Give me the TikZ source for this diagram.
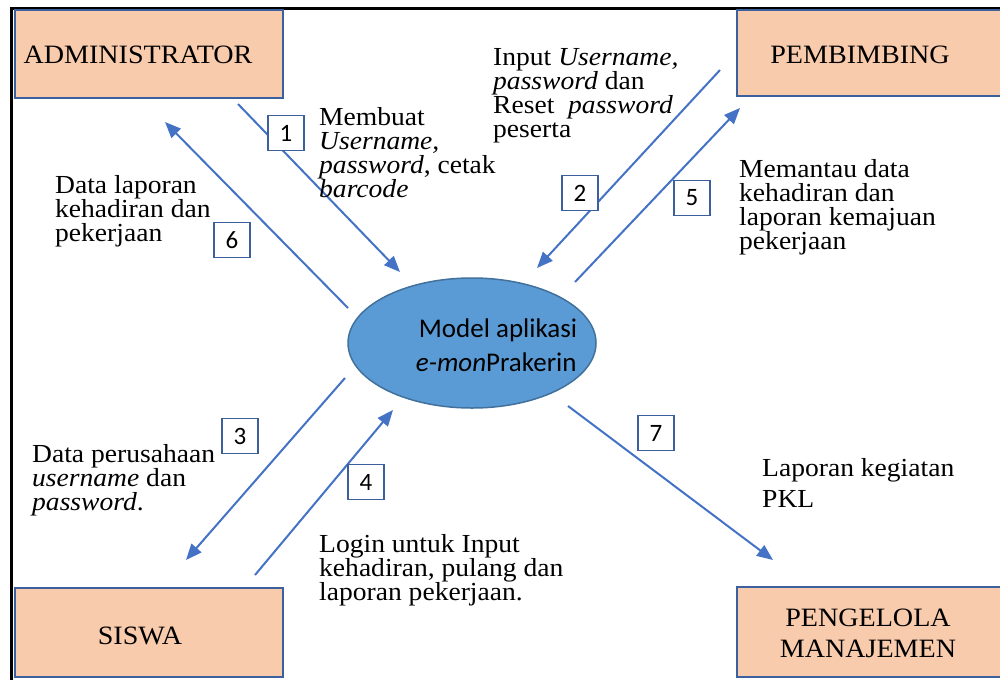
\documentclass[tikz,border=0pt]{standalone}
\usepackage{fontspec}
\setmainfont{Liberation Serif}[FakeStretch=1.06]
\newfontfamily\calibrifont{Carlito}
\usetikzlibrary{arrows.meta,shapes.geometric}
\definecolor{peach}{HTML}{F8CBAD}
\definecolor{boxblue}{HTML}{3C5F9E}
\definecolor{ellfill}{HTML}{5B9BD5}
\definecolor{ellline}{HTML}{41719C}
\definecolor{arrowblue}{HTML}{4472C4}
\tikzset{
  actorbox/.style={draw=boxblue, fill=peach, line width=2pt, inner sep=0pt},
  actortext/.style={inner sep=0pt, font=\fontsize{26.5}{31}\selectfont, align=center},
  flow/.style={draw=arrowblue, line width=2pt, -{Triangle[length=16pt,width=13pt]}},
  numbox/.style={draw=boxblue, fill=white, line width=1.5pt, minimum width=36pt, minimum height=35pt, inner sep=0pt, font=\calibrifont\fontsize{25}{25}\selectfont},
  lbl/.style={inner sep=0pt, anchor=north west, align=left, font=\fontsize{26}{24}\selectfont},
}
\begin{document}
\begin{tikzpicture}[x=1pt,y=-1pt]
\clip (0,0) rectangle (1000,680);
\fill[white] (0,0) rectangle (1000,680);
% frame
\draw[line width=3pt, black] (11,680) -- (11,8) -- (1002,8);
% actor boxes
\node[actorbox, minimum width=268pt, minimum height=88pt] (adminbox) at (149,54) {};
\node[actortext] (admin) at (138,55) {ADMINISTRATOR};
\node[actorbox, minimum width=280pt, minimum height=86pt] (pembbox) at (877,53) {};
\node[actortext] (pemb) at (860,55) {PEMBIMBING};
\node[actorbox, minimum width=268pt, minimum height=89pt] (siswabox) at (149,632.5) {};
\node[actortext] (siswa) at (140,636) {SISWA};
\node[actorbox, minimum width=280pt, minimum height=90pt] (pengbox) at (877,632) {};
\node[actortext] (peng) at (868,633) {PENGELOLA\\MANAJEMEN};
% central ellipse
\node[ellipse, draw=ellline, fill=ellfill, line width=1.5pt, minimum width=248pt, minimum height=130pt, inner sep=0pt] (app) at (472,343) {};
\node[inner sep=0pt, align=left, font=\calibrifont\fontsize{27}{34}\selectfont] (apptext) at (498,345) {Model aplikasi\\\hspace*{-3pt}\textit{e-mon}Prakerin};
% arrow end points
\coordinate (a1s) at (238,104); \coordinate (a1e) at (400,272);
\coordinate (a6s) at (348,308); \coordinate (a6e) at (165,122);
\coordinate (a2s) at (720,70);  \coordinate (a2e) at (537,268);
\coordinate (a5s) at (575,282); \coordinate (a5e) at (740,108);
\coordinate (a3s) at (345,378); \coordinate (a3e) at (186,560);
\coordinate (a4s) at (255,575); \coordinate (a4e) at (393,410);
\coordinate (a7s) at (568,406); \coordinate (a7e) at (773,560);
\draw[flow] (a1s) -- (a1e);
\draw[flow] (a6s) -- (a6e);
\draw[flow] (a2s) -- (a2e);
\draw[flow] (a5s) -- (a5e);
\draw[flow] (a3s) -- (a3e);
\draw[flow] (a4s) -- (a4e);
\draw[flow] (a7s) -- (a7e);
% number boxes
\node[numbox] (n1) at (286,133) {1};
\node[numbox] (n2) at (580,193) {2};
\node[numbox] (n5) at (692,198) {5};
\node[numbox] (n6) at (232,240) {6};
\node[numbox] (n3) at (240,436) {3};
\node[numbox] (n4) at (366,482) {4};
\node[numbox] (n7) at (656,433) {7};
% labels
\node[lbl] (l1) at (319,107) {Membuat\\\textit{Username,}\\\textit{password}, cetak\\\textit{barcode}};
\node[lbl] (l2) at (493,48) {Input \textit{Username,}\\\textit{password} dan\\Reset\ \ \textit{password}\\peserta};
\node[lbl] (l5) at (739,159) {Memantau data\\kehadiran dan\\laporan kemajuan\\pekerjaan};
\node[lbl] (l6) at (55,175) {Data laporan\\kehadiran dan\\pekerjaan};
\node[lbl] (l3) at (32,444) {Data perusahaan\\\textit{username} dan\\\textit{password}.};
\node[lbl] (l4) at (319,534) {Login untuk Input\\kehadiran, pulang dan\\laporan pekerjaan.};
\node[lbl, font=\fontsize{26}{31}\selectfont] (l7) at (762,458) {Laporan kegiatan\\PKL};
\end{tikzpicture}
\end{document}
